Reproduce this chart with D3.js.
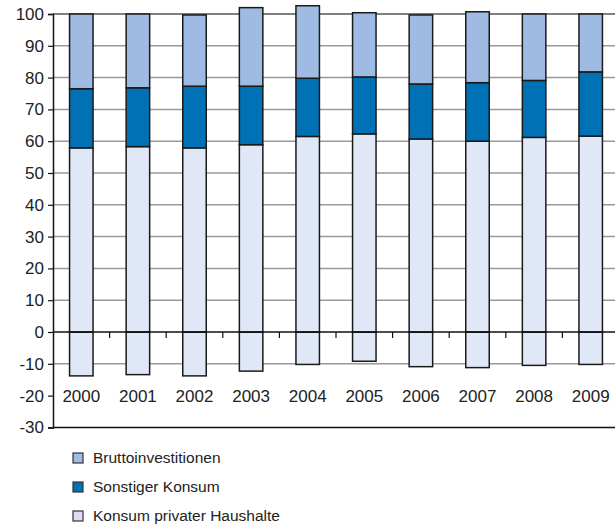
<!DOCTYPE html>
<html>
<head>
<meta charset="utf-8">
<script src="https://cdn.jsdelivr.net/npm/d3@7"></script>
<style>
  body { margin: 0; background: #fff; }
  svg { display: block; font-family: "Liberation Sans", Arial, sans-serif; }
</style>
</head>
<body>
<svg id="chart" width="615" height="524"></svg>
<script>
// values (share in %)
var years = ["2000","2001","2002","2003","2004","2005","2006","2007","2008","2009"];
var privat = [57.9, 58.3, 57.9, 58.9, 61.5, 62.3, 60.7, 60.0, 61.2, 61.6];
var sonstiger = [18.6, 18.5, 19.4, 18.4, 18.3, 17.9, 17.3, 18.4, 17.9, 20.2];
var brutto = [23.5, 23.2, 22.4, 24.7, 22.8, 20.2, 21.7, 22.3, 20.9, 18.2];
var negativ = [-13.8, -13.4, -13.8, -12.3, -10.2, -9.2, -10.9, -11.2, -10.5, -10.2];
var yTicks = [-30, -20, -10, 0, 10, 20, 30, 40, 50, 60, 70, 80, 90, 100];
var gridTicks = [-10, 10, 20, 30, 40, 50, 60, 70, 80, 90, 100];
var legendLabels = ["Bruttoinvestitionen", "Sonstiger Konsum", "Konsum privater Haushalte"];

var colPrivat = "#e0e8f7", colSonst = "#0071b5", colBrutto = "#a0bbe3";

var svg = d3.select("#chart");
var left = 53;
var y = d3.scaleLinear().domain([-30, 100]).range([427.4, 14]);
var x = d3.scaleBand().domain(years).range([left, 619]).paddingInner(0.585).paddingOuter(0.2925);

// grid
svg.append("g").selectAll("line").data(gridTicks).join("line")
  .attr("x1", left).attr("x2", 615)
  .attr("y1", function(d){ return y(d); }).attr("y2", function(d){ return y(d); })
  .attr("stroke", function(d){ return d == 100 ? "#555" : "#999"; })
  .attr("stroke-width", 1.5);

// stacked data
var rows = years.map(function(yr, i){
  return { year: yr, segs: [
    { lo: negativ[i], hi: 0, fill: colPrivat },
    { lo: 0, hi: privat[i], fill: colPrivat },
    { lo: privat[i], hi: privat[i] + sonstiger[i], fill: colSonst },
    { lo: privat[i] + sonstiger[i], hi: privat[i] + sonstiger[i] + brutto[i], fill: colBrutto }
  ]};
});

var bars = svg.append("g").selectAll("g").data(rows).join("g");
bars.selectAll("rect").data(function(d){ return d.segs.map(function(s){ s.year = d.year; return s; }); })
  .join("rect")
  .attr("x", function(d){ return x(d.year); })
  .attr("width", x.bandwidth())
  .attr("y", function(d){ return y(d.hi); })
  .attr("height", function(d){ return y(d.lo) - y(d.hi); })
  .attr("fill", function(d){ return d.fill; })
  .attr("stroke", "#1a1a1a")
  .attr("stroke-width", 1.5);

// zero line with category ticks
var z = y(0);
svg.append("line").attr("x1", left).attr("x2", 615).attr("y1", z).attr("y2", z)
  .attr("stroke", "#111").attr("stroke-width", 1.5);
svg.append("g").selectAll("line").data(years.slice(1)).join("line")
  .attr("x1", function(d){ return x(d) - x.step() * x.paddingInner() / 2; })
  .attr("x2", function(d){ return x(d) - x.step() * x.paddingInner() / 2; })
  .attr("y1", z).attr("y2", z + 6)
  .attr("stroke", "#111").attr("stroke-width", 1.2);

// bottom line
svg.append("line").attr("x1", left).attr("x2", 615).attr("y1", y(-30)).attr("y2", y(-30))
  .attr("stroke", "#111").attr("stroke-width", 1.5);

// y axis (plain hyphen for negatives, as in the original)
var yAxis = d3.axisLeft(y).tickValues(yTicks).tickSize(5).tickPadding(4)
  .tickFormat(function(d){ return String(d); });
var ga = svg.append("g").attr("transform", "translate(" + left + ",0)").call(yAxis);
ga.select(".domain").attr("stroke", "#111").attr("stroke-width", 1.5);
ga.selectAll(".tick line").attr("stroke", "#111").attr("stroke-width", 1.2);
ga.selectAll("text").attr("font-size", 17).attr("fill", "#222")
  .attr("font-family", "Liberation Sans, Arial, sans-serif");

// year labels
svg.append("g").selectAll("text").data(years).join("text")
  .attr("x", function(d){ return x(d) + x.bandwidth() / 2; })
  .attr("y", y(-20))
  .attr("dy", "0.35em")
  .attr("text-anchor", "middle")
  .attr("font-size", 17).attr("fill", "#222")
  .text(function(d){ return d; });

// legend
var legCols = [colBrutto, colSonst, "#dcdcf4"];
var lg = svg.append("g").selectAll("g").data(legendLabels).join("g")
  .attr("transform", function(d, i){ return "translate(73," + (458 + i * 29) + ")"; });
lg.append("rect").attr("x", 0).attr("y", -5).attr("width", 10).attr("height", 10)
  .attr("fill", function(d, i){ return legCols[i]; })
  .attr("stroke", "#333").attr("stroke-width", 1.2);
lg.append("text").attr("x", 20).attr("y", 0).attr("dy", "0.35em")
  .attr("font-size", 15.5).attr("fill", "#222")
  .text(function(d){ return d; });
</script>
</body>
</html>
